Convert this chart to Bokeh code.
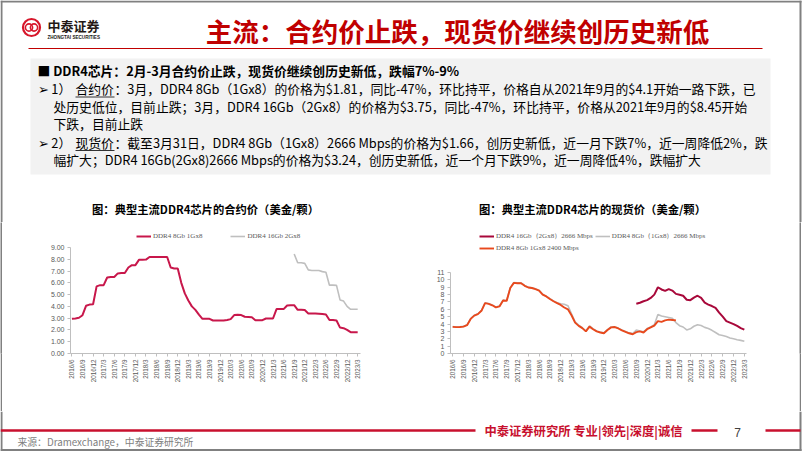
import math
from bokeh.plotting import figure
from bokeh.models import Range1d, FixedTicker, NumeralTickFormatter, Legend, LegendItem
from bokeh.layouts import column, row
from bokeh.embed import file_html
from bokeh.resources import INLINE
from bokeh.core.properties import value

# ---------------- data ----------------
months = [f"{2016 + (5 + k) // 12}/{(5 + k) % 12 + 1}" for k in range(82)]  # 2016/6 .. 2023/3
tick_labels = months[::3]

# contract price (USD/chip), monthly
contract_8gb = [2.94, 2.97, 3.03, 3.25, 4.05, 4.15, 4.18, 5.70, 5.80, 5.80,
                6.45, 6.50, 6.50, 6.80, 6.83, 6.83, 7.30, 7.50, 7.50, 7.95,
                7.95, 7.97, 8.19, 8.19, 8.19, 8.19, 8.19, 8.19, 7.30, 7.22,
                7.22, 6.00, 5.10, 4.50, 4.00, 3.70, 3.30, 2.94, 2.94, 2.94,
                2.80, 2.80, 2.80, 2.80, 2.85, 2.92, 3.26, 3.28, 3.26, 3.12,
                3.10, 3.08, 2.83, 2.83, 2.83, 2.97, 2.97, 2.97, 3.77, 3.77,
                3.77, 4.08, 4.10, 4.10, 3.71, 3.71, 3.69, 3.40, 3.40, 3.40,
                3.38, 3.35, 3.31, 2.85, 2.85, 2.80, 2.20, 2.15, 2.00, 1.81,
                1.81, 1.81]
contract_16gb_start = "2021/9"
contract_16gb = [8.45, 7.70, 7.70, 7.65, 7.10, 7.05, 7.05, 7.05, 6.95, 6.90,
                 5.80, 5.80, 5.78, 4.55, 4.45, 4.00, 3.75, 3.75, 3.75]

# spot price (USD/chip), monthly
spot_16gb_start = "2020/9"
spot_16gb = [6.75, 6.90, 7.10, 7.25, 7.55, 8.00, 9.00, 8.70, 8.50, 8.75,
             8.55, 8.10, 7.98, 7.85, 7.30, 7.25, 7.60, 7.85, 7.55, 6.90,
             6.65, 6.45, 6.20, 5.55, 5.00, 4.40, 4.20, 4.00, 3.75, 3.45,
             3.24]
spot_8gb_2666 = [3.65, 3.60, 3.62, 3.68, 3.90, 4.75, 5.20, 5.40, 5.85, 6.90,
                 6.80, 6.60, 6.30, 6.45, 7.25, 7.20, 8.95, 9.65, 9.60, 9.60,
                 9.25, 9.00, 8.92, 8.78, 8.58, 8.05, 7.80, 7.45, 7.15, 6.90,
                 6.75, 6.70, 6.50, 5.40, 4.30, 3.85, 3.50, 3.05, 3.75, 3.35,
                 3.05, 2.90, 2.80, 3.25, 3.60, 3.62, 3.45, 3.20, 3.00, 2.80,
                 2.70, 3.20, 3.05, 2.95, 3.40, 3.60, 3.90, 5.30, 5.10, 5.00,
                 4.90, 4.80, 4.20, 3.78, 3.60, 3.20, 3.35, 3.70, 3.90, 3.80,
                 3.55, 3.40, 3.15, 2.85, 2.55, 2.45, 2.30, 2.10, 2.00, 1.88,
                 1.78, 1.66]
spot_8gb_2400 = [3.62, 3.58, 3.60, 3.65, 3.85, 4.70, 5.15, 5.35, 5.80, 6.85,
                 6.75, 6.55, 6.27, 6.40, 7.20, 7.15, 8.90, 9.60, 9.55, 9.55,
                 9.20, 8.97, 8.90, 8.75, 8.55, 8.00, 7.75, 7.40, 7.10, 6.85,
                 6.60, 6.25, 6.00, 5.20, 4.20, 3.75, 3.45, 3.00, 3.65, 3.30,
                 3.00, 2.85, 2.75, 3.20, 3.55, 3.60, 3.40, 3.15, 2.95, 2.75,
                 2.62, 2.90, 3.00, 2.85, 3.30, 3.55, 3.80, 4.40, 4.30, 4.50,
                 4.60, 4.55, 4.50]

# slide texts
slide_title = "主流：合约价止跌，现货价继续创历史新低"
bullet_head = "■ DDR4芯片：2月-3月合约价止跌，现货价继续创历史新低，跌幅7%-9%"
b1_pre, b1_key = "➢ 1）", "合约价"
b1_l1 = "：3月，DDR4 8Gb（1Gx8）的价格为$1.81，同比-47%，环比持平，价格自从2021年9月的$4.1开始一路下跌，已"
b1_l2 = "处历史低位，目前止跌；3月，DDR4 16Gb（2Gx8）的价格为$3.75，同比-47%，环比持平，价格从2021年9月的$8.45开始"
b1_l3 = "下跌，目前止跌"
b2_pre, b2_key = "➢ 2）", "现货价"
b2_l1 = "：截至3月31日，DDR4 8Gb（1Gx8）2666 Mbps的价格为$1.66，创历史新低，近一月下跌7%，近一周降低2%，跌"
b2_l2 = "幅扩大；DDR4 16Gb(2Gx8)2666 Mbps的价格为$3.24，创历史新低，近一个月下跌9%，近一周降低4%，跌幅扩大"
chart1_title = "图：典型主流DDR4芯片的合约价（美金/颗）"
chart2_title = "图：典型主流DDR4芯片的现货价（美金/颗）"
footer_brand = "中泰证券研究所 专业|领先|深度|诚信"
source_text = "来源：Dramexchange，中泰证券研究所"
page_no = "7"

CJK = "Noto Sans CJK SC"
RED = "#C00000"
CRIMSON = "#C8102E"
BORDER = "#808080"
W = 802


def txt(p, x, y, s, size, color="#000000", bold=False, align="left", font=CJK):
    p.text(x=[x], y=[y], text=[s], text_font=value(font), text_font_size=f"{size}px",
           text_font_style="bold" if bold else "normal", text_color=color,
           text_align=align, text_baseline="middle")


def canvas(y_top, y_bottom):
    p = figure(width=W, height=y_bottom - y_top, x_range=Range1d(0, W),
               y_range=Range1d(y_bottom, y_top),
               toolbar_location=None, output_backend="svg", min_border=0,
               x_axis_location=None, y_axis_location=None, outline_line_color=None)
    p.grid.visible = False
    return p


# ---------------- header (page px 0..222) ----------------
hdr = canvas(0, 222)
hdr.segment(x0=[0, 1, 800], y0=[1, 0, 0], x1=[801, 1, 800], y1=[1, 222, 222],
            line_color=BORDER, line_width=2)
# logo
hdr.circle(x=[31], y=[27], radius=8.5, fill_color=None, line_color="#D7162B", line_width=2.2)
hdr.arc(x=[28.5, 33.5], y=[27, 27], radius=3.6, start_angle=0, end_angle=2 * math.pi,
        line_color="#D7162B", line_width=1.6)
txt(hdr, 47, 25, "中泰证券", 13, "#231815", bold=True)
txt(hdr, 47, 37, "ZHONGTAI SECURITIES", 4.6, "#231815", bold=True, font="Liberation Sans")
# title
txt(hdr, 457, 30, slide_title, 26.5, RED, bold=True, align="center")
hdr.segment(x0=[28], y0=[48], x1=[762], y1=[48], line_color=RED, line_width=1.2)
# text box
hdr.quad(left=[30], right=[770], top=[58], bottom=[174], fill_color="#F2F2F2", line_color=None)
FS = 12.8
txt(hdr, 37, 69.5, bullet_head, FS, bold=True)
txt(hdr, 37, 88, b1_pre, FS)
txt(hdr, 75, 88, b1_key, FS)
txt(hdr, 114, 88, b1_l1, FS)
txt(hdr, 53, 105.5, b1_l2, FS)
txt(hdr, 53, 122.5, b1_l3, FS)
txt(hdr, 37, 141.5, b2_pre, FS)
txt(hdr, 75, 141.5, b2_key, FS)
txt(hdr, 114, 141.5, b2_l1, FS)
txt(hdr, 53, 159, b2_l2, FS)
hdr.segment(x0=[75, 75], y0=[96.5, 150], x1=[114, 114], y1=[96.5, 150],
            line_color="#000000", line_width=0.8)
# chart titles
txt(hdr, 205, 208, chart1_title, 11.3, bold=True, align="center")
txt(hdr, 592, 208, chart2_title, 11.3, bold=True, align="center")


# ---------------- charts (page px 222..411) ----------------
def style_chart(p, yticks, fmt=None):
    p.grid.visible = False
    p.yaxis.ticker = FixedTicker(ticks=yticks)
    p.yaxis.bounds = (yticks[0], yticks[-1])
    if fmt:
        p.yaxis.formatter = NumeralTickFormatter(format=fmt)
    p.xaxis.ticker = FixedTicker(ticks=list(range(0, 82, 3)))
    p.xaxis.major_label_overrides = {i * 3: lab for i, lab in enumerate(tick_labels)}
    p.xaxis.major_label_orientation = math.pi / 2
    for ax in (p.xaxis, p.yaxis):
        ax.axis_line_color = "#BFBFBF"
        ax.major_tick_line_color = "#BFBFBF"
        ax.major_tick_out = 3
        ax.major_tick_in = 0
        ax.minor_tick_line_color = None
        ax.major_label_text_font = "Liberation Sans"
        ax.major_label_text_color = "#595959"
        ax.major_label_standoff = 3
    p.xaxis.major_label_text_font_size = "6.3px"
    p.yaxis.major_label_text_font_size = "7px"


def legend_style(lg):
    lg.label_text_font = "Liberation Serif"
    lg.label_text_font_size = "7px"
    lg.label_text_color = "#595959"
    lg.glyph_width = 15
    lg.glyph_height = 8
    lg.label_height = 10
    lg.label_standoff = 2
    lg.padding = 2
    lg.background_fill_alpha = 0
    lg.border_line_color = None


idx = list(range(82))
CH = 189

lc = figure(width=398, height=CH, x_range=Range1d(-0.4, 81.8), y_range=Range1d(0, 11.12),
            toolbar_location=None, output_backend="svg", outline_line_color=None,
            min_border_left=68, min_border_right=40, min_border_top=0, min_border_bottom=58)
style_chart(lc, list(range(10)), "0.00")
s16 = months.index(contract_16gb_start)
r_c8 = lc.line(idx, contract_8gb, line_color="#C8174B", line_width=2)
r_c16 = lc.line(idx[s16:s16 + len(contract_16gb)], contract_16gb, line_color="#BFBFBF", line_width=1.6)
lg1 = Legend(items=[LegendItem(label="DDR4 8Gb 1Gx8", renderers=[r_c8]),
                    LegendItem(label="DDR4 16Gb 2Gx8", renderers=[r_c16])],
             orientation="horizontal", location=(66, 112))
legend_style(lg1)
lg1.spacing = 28
lc.add_layout(lg1)

rc = figure(width=399, height=CH, x_range=Range1d(-0.6, 81.6), y_range=Range1d(0, 17.8),
            toolbar_location=None, output_backend="svg", outline_line_color=None,
            min_border_left=50, min_border_right=53, min_border_top=0, min_border_bottom=51)
style_chart(rc, list(range(12)))
t16 = months.index(spot_16gb_start)
r_g = rc.line(idx, spot_8gb_2666, line_color="#BFBFBF", line_width=1.6)
r_o = rc.line(idx[:len(spot_8gb_2400)], spot_8gb_2400, line_color="#E8491D", line_width=1.9)
r_r = rc.line(idx[t16:t16 + len(spot_16gb)], spot_16gb, line_color="#A8083A", line_width=2)
lg2 = Legend(items=[LegendItem(label="DDR4 16Gb（2Gx8）2666 Mbps", renderers=[r_r]),
                    LegendItem(label="DDR4 8Gb（1Gx8）2666 Mbps", renderers=[r_g]),
                    LegendItem(label="DDR4 8Gb 1Gx8 2400 Mbps", renderers=[r_o])],
             orientation="horizontal", ncols=2, location=(29, 100))
legend_style(lg2)
lg2.spacing = 2
rc.add_layout(lg2)


def bar(h):
    b = figure(width=2, height=h, toolbar_location=None, output_backend="svg", min_border=0,
               x_axis_location=None, y_axis_location=None, outline_line_color=None,
               background_fill_color=BORDER, border_fill_color=BORDER)
    b.grid.visible = False
    return b


# ---------------- footer (page px 411..451) ----------------
ftr = canvas(411, 451)
ftr.segment(x0=[1, 800, 0], y0=[411, 411, 449.5], x1=[1, 800, 801], y1=[451, 451, 449.5],
            line_color=BORDER, line_width=2)
ftr.segment(x0=[0, 691, 765], y0=[430, 430, 430], x1=[475, 717, 800], y1=[430, 430, 430],
            line_color=CRIMSON, line_width=2.5)
txt(ftr, 583, 430.5, footer_brand, 12.3, CRIMSON, bold=True, align="center")
txt(ftr, 737, 432, page_no, 12, "#404040", font="Liberation Sans", align="center")
txt(ftr, 17, 441, source_text, 9.8, "#7F7F7F")

layout = column(hdr, row(bar(CH), lc, rc, bar(CH)), ftr)
open("out.html", "w").write(file_html(layout, INLINE))
